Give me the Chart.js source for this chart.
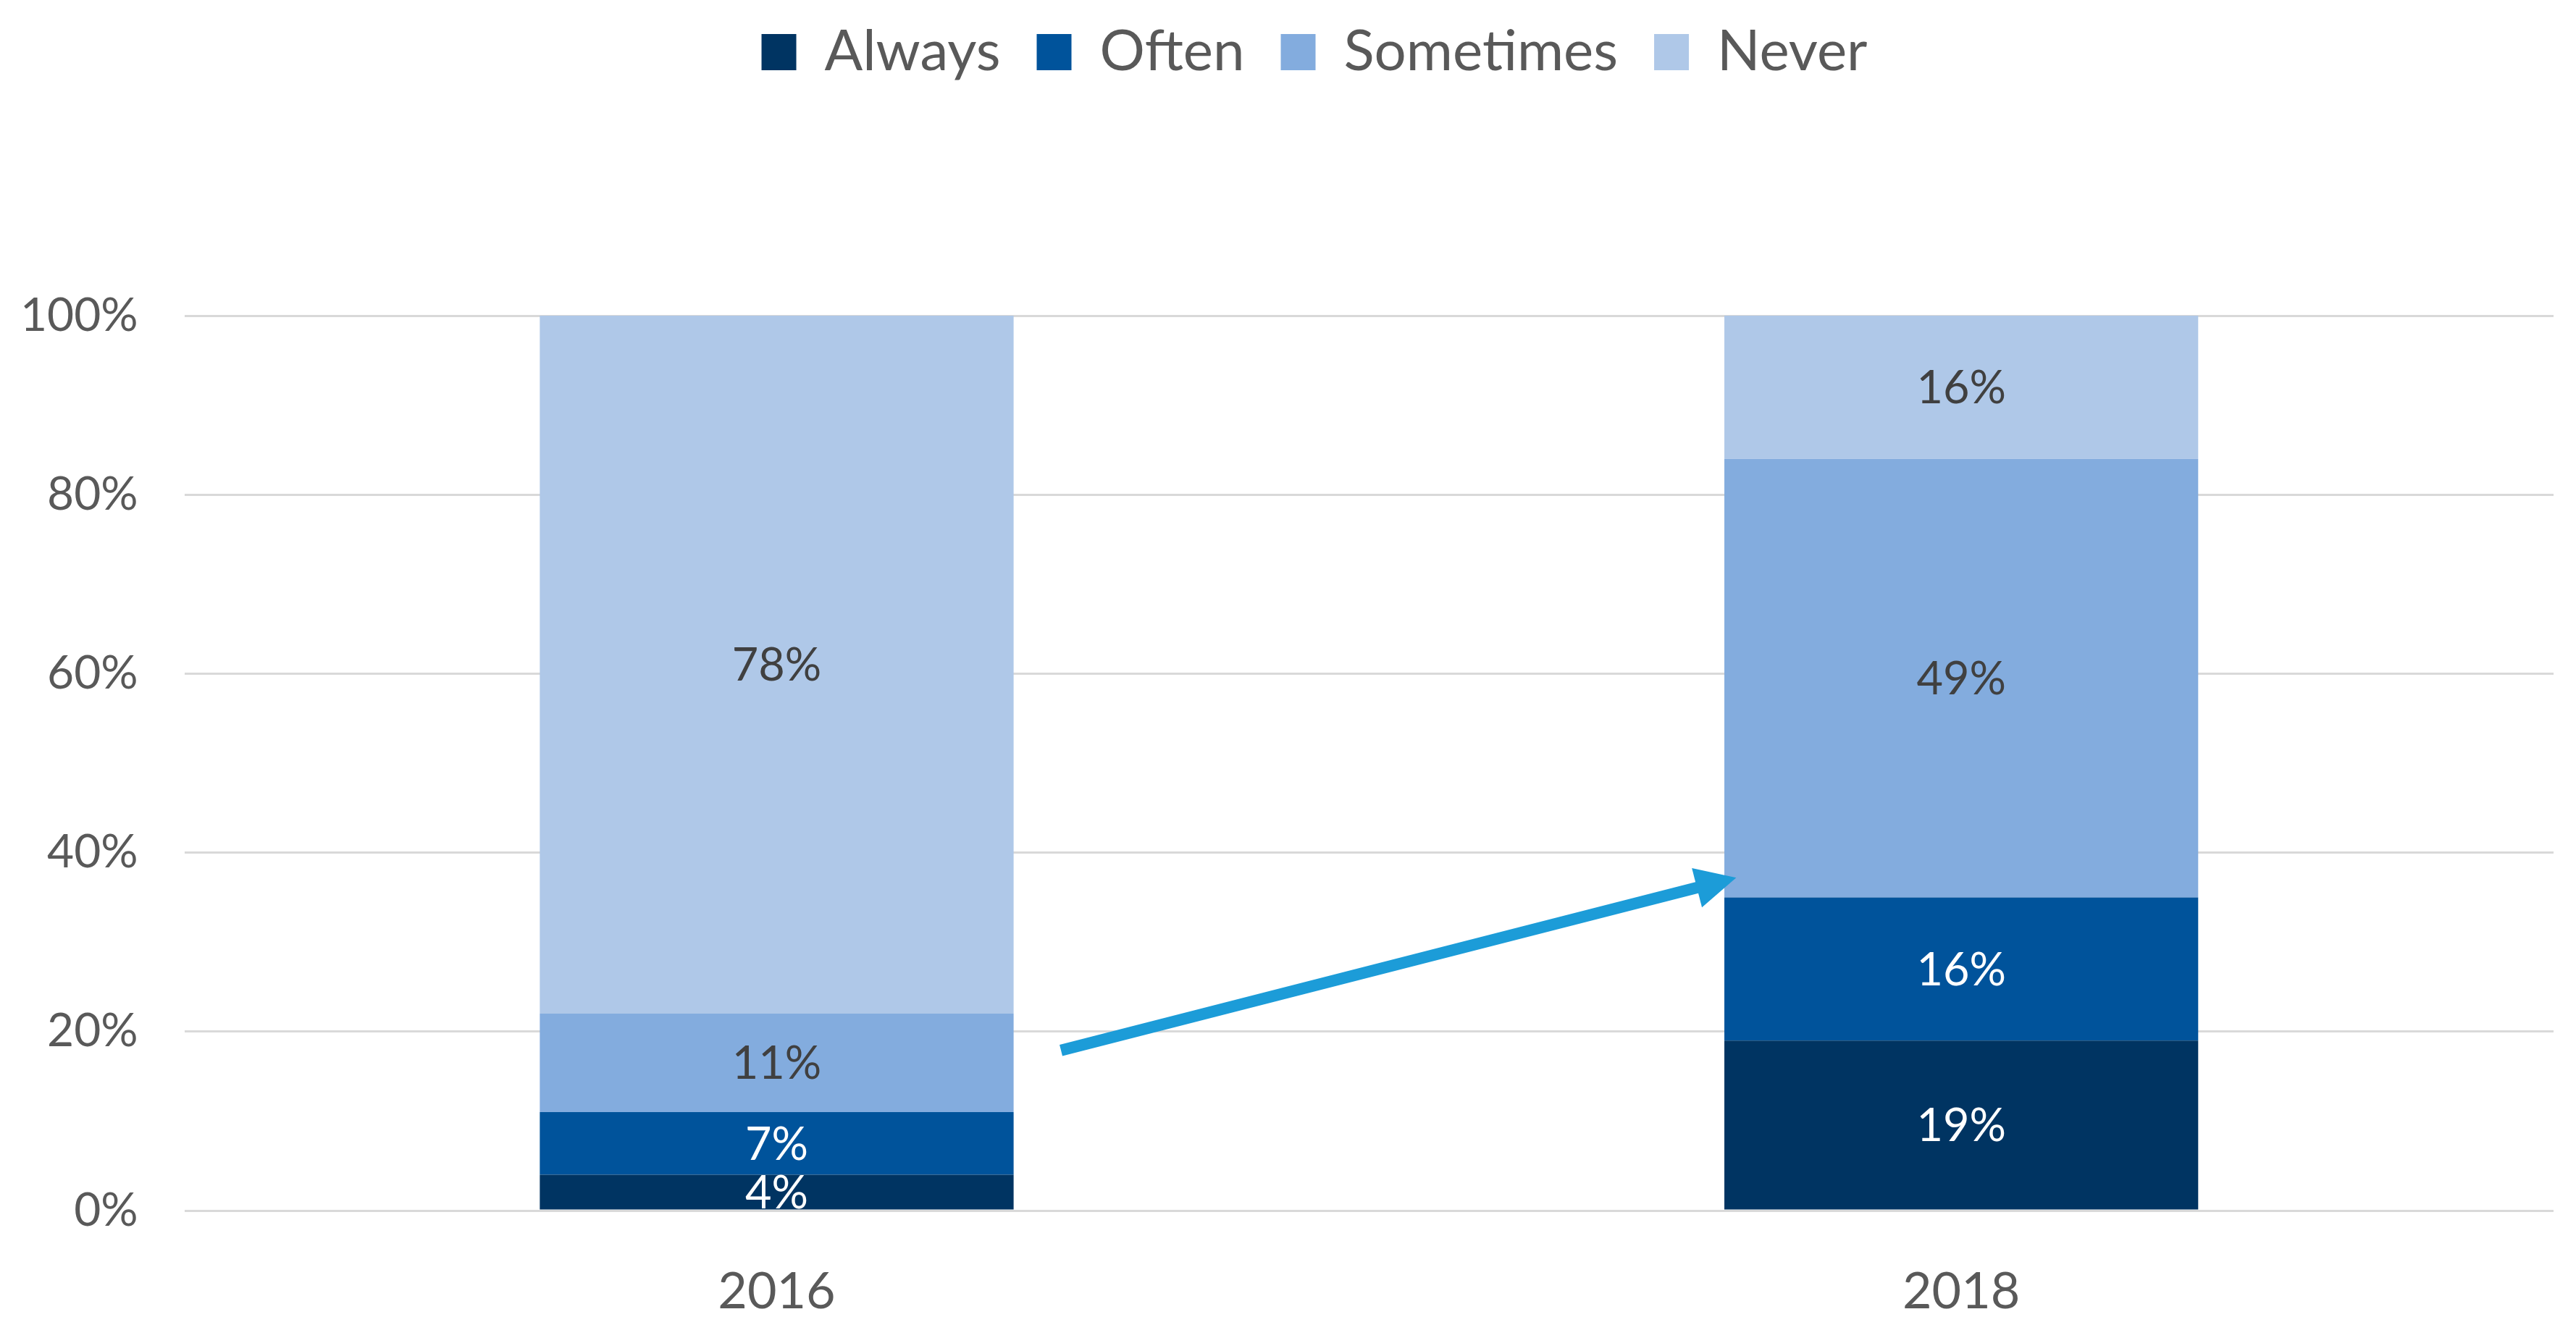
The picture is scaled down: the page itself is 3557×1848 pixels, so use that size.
<!DOCTYPE html>
<html>
<head>
<meta charset="utf-8">
<script src="https://cdn.jsdelivr.net/npm/chart.js@4/dist/chart.umd.min.js"></script>
<style>
html,body{margin:0;padding:0;background:#fff;}
#wrap{width:3557px;height:1848px;}
</style>
</head>
<body>
<div id="wrap"><canvas id="c" width="3557" height="1848"></canvas></div>
<script>
const categories = ['2016', '2018'];
const seriesNames = ['Always', 'Often', 'Sometimes', 'Never'];
const always = [4, 19];
const often = [7, 16];
const sometimes = [11, 49];
const never = [78, 16];
const yTicks = [0, 20, 40, 60, 80, 100];
const arrowFrom = [0.24, 17.9];
const arrowTo = [0.81, 37.2];

const colors = ['#003462', '#00539B', '#83ACDE', '#AFC8E8'];
const labelColors = ['#FFFFFF', '#FFFFFF', '#404040', '#404040'];
const FONT = 'Lato, "Liberation Sans", sans-serif';
const seriesValues = [always, often, sometimes, never];

const legendMargin = {
  id: 'legendMargin',
  beforeInit(chart) {
    const fit = chart.legend.fit;
    chart.legend.fit = function () {
      fit.bind(chart.legend)();
      this.height += 315;
    };
  },
  beforeDraw(chart) {
    const lg = chart.legend;
    if (!lg._shifted) {
      lg.left += 70;
      lg.right += 70;
      lg._shifted = true;
    }
  }
};

const barLabels = {
  id: 'barLabels',
  afterDatasetsDraw(chart) {
    const ctx = chart.ctx;
    ctx.save();
    ctx.font = '63px ' + FONT;
    ctx.textAlign = 'center';
    ctx.textBaseline = 'middle';
    chart.data.datasets.forEach((ds, i) => {
      const meta = chart.getDatasetMeta(i);
      meta.data.forEach((bar, j) => {
        const v = ds.data[j];
        const mid = (bar.y + bar.base) / 2;
        ctx.fillStyle = labelColors[i];
        ctx.fillText(v + '%', bar.x, mid + 2);
      });
    });
    ctx.restore();
  }
};

const arrow = {
  id: 'arrow',
  afterDatasetsDraw(chart) {
    const xs = chart.scales.x, ys = chart.scales.y;
    const x1 = xs.getPixelForValue(arrowFrom[0]), y1 = ys.getPixelForValue(arrowFrom[1]);
    const x2 = xs.getPixelForValue(arrowTo[0]), y2 = ys.getPixelForValue(arrowTo[1]);
    const ang = Math.atan2(y2 - y1, x2 - x1);
    const headLen = 56, headHalf = 28;
    const bx = x2 - headLen * Math.cos(ang), by = y2 - headLen * Math.sin(ang);
    const ctx = chart.ctx;
    ctx.save();
    ctx.strokeStyle = '#1C9CD8';
    ctx.fillStyle = '#1C9CD8';
    ctx.lineWidth = 16;
    ctx.beginPath();
    ctx.moveTo(x1, y1);
    ctx.lineTo(bx + 2 * Math.cos(ang), by + 2 * Math.sin(ang));
    ctx.stroke();
    ctx.beginPath();
    ctx.moveTo(x2, y2);
    ctx.lineTo(bx - headHalf * Math.sin(ang), by + headHalf * Math.cos(ang));
    ctx.lineTo(bx + headHalf * Math.sin(ang), by - headHalf * Math.cos(ang));
    ctx.closePath();
    ctx.fill();
    ctx.restore();
  }
};

new Chart(document.getElementById('c'), {
  type: 'bar',
  data: {
    labels: categories,
    datasets: seriesNames.map((n, i) => ({
      label: n,
      data: seriesValues[i],
      backgroundColor: colors[i],
      borderWidth: 0,
      categoryPercentage: 1,
      barPercentage: 0.4
    }))
  },
  options: {
    responsive: false,
    devicePixelRatio: 1,
    animation: false,
    layout: { padding: { left: -36, right: 31, top: -17, bottom: -48 } },
    plugins: {
      tooltip: { enabled: false },
      legend: {
        position: 'top',
        labels: {
          boxWidth: 48,
          boxHeight: 50,
          padding: 50,
          color: '#595959',
          font: { family: FONT, size: 78 }
        }
      }
    },
    scales: {
      x: {
        stacked: true,
        grid: { display: false, drawTicks: false },
        border: { display: false },
        ticks: { color: '#595959', font: { family: FONT, size: 70 }, padding: 70 }
      },
      y: {
        stacked: true,
        min: 0,
        max: 100,
        afterBuildTicks(axis) { axis.ticks = yTicks.map(v => ({ value: v })); },
        grid: { color: '#D9D9D9', lineWidth: 3, drawTicks: false },
        border: { display: false },
        ticks: {
          color: '#595959',
          font: { family: FONT, size: 64 },
          padding: 64,
          callback: v => v + '%'
        }
      }
    }
  },
  plugins: [legendMargin, barLabels, arrow]
});
</script>
</body>
</html>
